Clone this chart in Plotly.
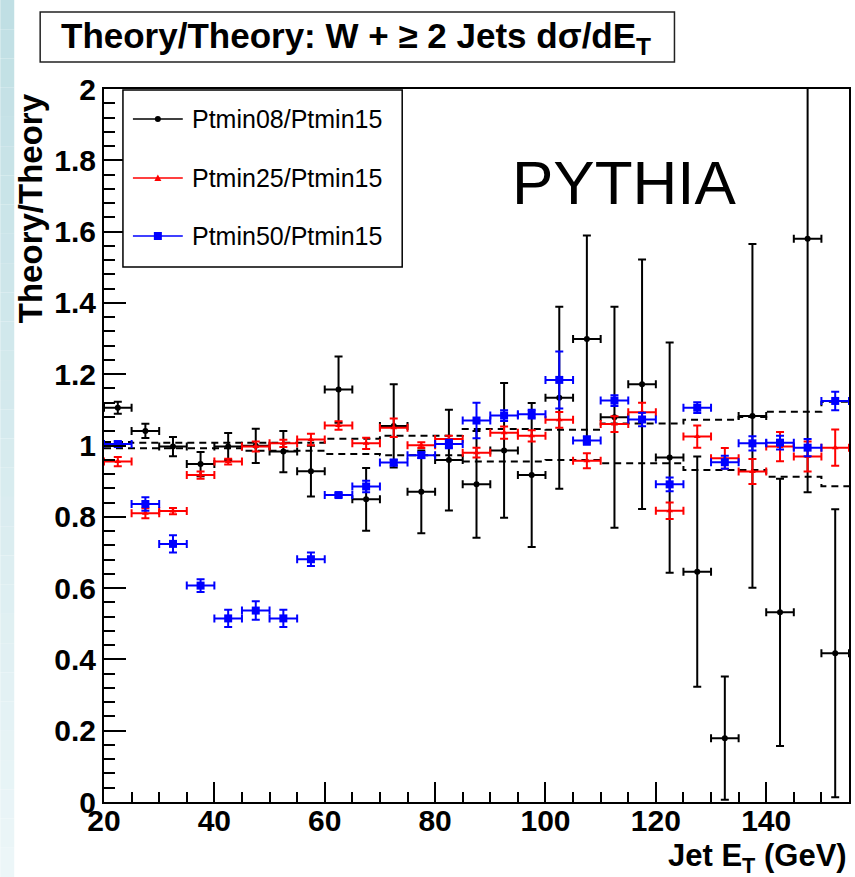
import plotly.graph_objects as go

# ---------------- data ----------------
et_centers = [22.5, 27.5, 32.5, 37.5, 42.5, 47.5, 52.5, 57.5, 62.5, 67.5, 72.5, 77.5, 82.5, 87.5,
              92.5, 97.5, 102.5, 107.5, 112.5, 117.5, 122.5, 127.5, 132.5, 137.5, 142.5, 147.5, 152.5]
bin_halfwidth = 2.5

black_vals = [1.106, 1.041, 0.997, 0.948, 0.997, 0.999, 0.983, 0.928, 1.157, 0.849, 1.055, 0.870, 0.959, 0.891,
              0.986, 0.917, 1.134, 1.299, 1.079, 1.172, 0.966, 0.646, 0.179, 1.083, 0.532, 1.580, 0.417]
black_err = [0.017, 0.020, 0.027, 0.034, 0.038, 0.048, 0.058, 0.071, 0.093, 0.088, 0.117, 0.116, 0.141, 0.150,
             0.189, 0.202, 0.255, 0.290, 0.310, 0.350, 0.323, 0.323, 0.173, 0.482, 0.375, 0.711, 0.404]

red_vals = [0.955, 0.810, 0.816, 0.917, 0.955, 0.997, 1.006, 1.017, 1.056, 1.006, 1.050, 1.001, 1.018, 0.980,
            1.036, 1.027, 1.072, 0.957, 1.060, 1.093, 0.817, 1.025, 0.964, 0.927, 0.997, 0.969, 0.994]
red_err = [0.013, 0.014, 0.009, 0.010, 0.008, 0.014, 0.010, 0.016, 0.012, 0.016, 0.026, 0.008, 0.009, 0.014,
           0.017, 0.016, 0.022, 0.021, 0.022, 0.027, 0.023, 0.031, 0.029, 0.035, 0.041, 0.042, 0.051]

blue_vals = [1.004, 0.836, 0.724, 0.607, 0.515, 0.537, 0.515, 0.681, 0.861, 0.885, 0.952, 0.973, 1.004, 1.070,
             1.084, 1.088, 1.184, 1.014, 1.126, 1.073, 0.891, 1.106, 0.953, 1.006, 1.008, 0.994, 1.125]
blue_err = [0.007, 0.019, 0.024, 0.018, 0.024, 0.026, 0.024, 0.019, 0.006, 0.016, 0.008, 0.008, 0.012, 0.050,
            0.015, 0.012, 0.080, 0.012, 0.015, 0.019, 0.019, 0.015, 0.018, 0.020, 0.019, 0.024, 0.026]

band_upper = [1.010, 1.008, 1.008, 1.008, 1.008, 1.008, 1.008, 1.008, 1.019, 1.019, 1.027, 1.027, 1.027, 1.046,
              1.046, 1.046, 1.044, 1.044, 1.062, 1.062, 1.062, 1.072, 1.072, 1.080, 1.095, 1.095, 1.123]
band_lower = [0.992, 0.992, 0.992, 0.992, 0.992, 0.985, 0.985, 0.985, 0.976, 0.976, 0.973, 0.973, 0.973, 0.955,
              0.955, 0.955, 0.959, 0.959, 0.950, 0.950, 0.950, 0.931, 0.931, 0.931, 0.912, 0.912, 0.886]

series_names = ["Ptmin08/Ptmin15", "Ptmin25/Ptmin15", "Ptmin50/Ptmin15"]
x_range = [20, 155]
y_range = [0, 2]

FONT = "Liberation Sans, Arial, Helvetica, sans-serif"

# ---------------- figure ----------------
fig = go.Figure()

# step edges for dashed band
edges = [c - bin_halfwidth for c in et_centers] + [et_centers[-1] + bin_halfwidth]
for band in (band_upper, band_lower):
    fig.add_trace(go.Scatter(x=edges, y=band + [band[-1]], mode="lines", line_shape="hv",
                             line=dict(color="black", width=2, dash="7px,5px"),
                             showlegend=False, hoverinfo="skip"))

styles = [
    (black_vals, black_err, "black", "circle", 6),
    (red_vals, red_err, "#ff0000", "triangle-up", 6),
    (blue_vals, blue_err, "#0000ff", "square", 8),
]
for (vals, errs, col, sym, sz), name in zip(styles, series_names):
    fig.add_trace(go.Scatter(
        x=et_centers, y=vals, mode="markers", name=name, showlegend=False,
        marker=dict(color=col, symbol=sym, size=sz, line=dict(width=0)),
        error_y=dict(type="data", array=errs, visible=True, color=col, thickness=2, width=4),
        error_x=dict(type="constant", value=bin_halfwidth, visible=True, color=col, thickness=2, width=4),
    ))

# ---------------- geometry helpers (pixel -> paper) ----------------
L, R, T, B = 104, 851, 89, 802
W, H = R - L, B - T
def px(x):
    return (x - L) / W
def py(y):
    return (B - y) / H

shapes = []
annotations = []

# left gradient strip (decoration)
n_bands = 30
top_c = (192, 223, 228)
bot_c = (236, 246, 248)
for i in range(n_bands):
    f = i / (n_bands - 1)
    c = tuple(int(round(top_c[k] + (bot_c[k] - top_c[k]) * f)) for k in range(3))
    y0 = 877 * i / n_bands
    y1 = 877 * (i + 1) / n_bands
    shapes.append(dict(type="rect", xref="paper", yref="paper", x0=px(0), x1=px(14),
                       y0=py(y1), y1=py(y0), fillcolor="rgb(%d,%d,%d)" % c, line=dict(width=0),
                       layer="below"))

# title box
shapes.append(dict(type="rect", xref="paper", yref="paper", x0=px(40), x1=px(676), y0=py(62), y1=py(12),
                   line=dict(color="#222", width=1.5), fillcolor="white"))
annotations.append(dict(text="<b>Theory/Theory: W + ≥ 2 Jets dσ/dE<sub>T</sub></b>", xref="paper", yref="paper",
                        x=px(357), y=py(38), xanchor="center", yanchor="middle", showarrow=False,
                        font=dict(family=FONT, size=35, color="black")))

# legend box
shapes.append(dict(type="rect", xref="paper", yref="paper", x0=px(123), x1=px(403), y0=py(267), y1=py(90),
                   line=dict(color="black", width=1.5), fillcolor="white"))
legend_y = [119, 178, 236]
for (vals, errs, col, sym, sz), name, ly in zip(styles, series_names, legend_y):
    shapes.append(dict(type="line", xref="paper", yref="paper", x0=px(133), x1=px(183), y0=py(ly), y1=py(ly),
                       line=dict(color=col, width=1.5)))
    if sym == "circle":
        shapes.append(dict(type="circle", xref="paper", yref="paper", xsizemode="pixel", ysizemode="pixel",
                           xanchor=px(158), yanchor=py(ly), x0=-3, x1=3, y0=-3, y1=3,
                           fillcolor=col, line=dict(width=0)))
    elif sym == "square":
        shapes.append(dict(type="rect", xref="paper", yref="paper", xsizemode="pixel", ysizemode="pixel",
                           xanchor=px(158), yanchor=py(ly), x0=-4, x1=4, y0=-4, y1=4,
                           fillcolor=col, line=dict(width=0)))
    else:
        shapes.append(dict(type="path", xref="paper", yref="paper", xsizemode="pixel", ysizemode="pixel",
                           xanchor=px(158), yanchor=py(ly), path="M -3.5,-3 L 3.5,-3 L 0,3.5 Z",
                           fillcolor=col, line=dict(width=0)))
    annotations.append(dict(text=name, xref="paper", yref="paper", x=px(190), y=py(ly), xanchor="left",
                            yanchor="middle", showarrow=False, font=dict(family=FONT, size=25, color="black")))

# PYTHIA label
annotations.append(dict(text="PYTHIA", xref="paper", yref="paper", x=px(626), y=py(182), xanchor="center",
                        yanchor="middle", showarrow=False, font=dict(family=FONT, size=62, color="black")))

# axis titles
annotations.append(dict(text="<b>Theory/Theory</b>", xref="paper", yref="paper", x=px(30), y=py(91),
                        xanchor="center", yanchor="top", textangle=-90, showarrow=False,
                        font=dict(family=FONT, size=33, color="black")))
annotations.append(dict(text="<b>Jet E<sub>T</sub> (GeV)</b>", xref="paper", yref="paper", x=px(851),
                        y=py(858), xanchor="right", yanchor="middle", showarrow=False,
                        font=dict(family=FONT, size=31, color="black")))

fig.update_layout(
    width=855, height=877,
    margin=dict(l=L, r=855 - R, t=T, b=877 - B, pad=0),
    paper_bgcolor="white", plot_bgcolor="white",
    showlegend=False,
    shapes=shapes, annotations=annotations,
    font=dict(family=FONT, color="black"),
)
fig.update_xaxes(range=x_range, tick0=20, dtick=20, ticks="inside", ticklen=20, tickwidth=1.5,
                 tickcolor="black", showgrid=False, zeroline=False, showline=True, mirror=True,
                 linecolor="black", linewidth=2, ticklabelstandoff=-9,
                 tickfont=dict(family=FONT, size=30, color="black", weight="bold"),
                 minor=dict(dtick=5, ticks="inside", ticklen=10, tickwidth=1.5, tickcolor="black", showgrid=False))
fig.update_yaxes(range=y_range, tick0=0, dtick=0.2, ticks="inside", ticklen=22, tickwidth=1.5,
                 tickcolor="black", showgrid=False, zeroline=False, showline=True, mirror=True,
                 linecolor="black", linewidth=2,
                 tickfont=dict(family=FONT, size=30, color="black", weight="bold"),
                 minor=dict(dtick=0.04, ticks="inside", ticklen=11, tickwidth=1.5, tickcolor="black", showgrid=False))

fig.write_html("out.html")
